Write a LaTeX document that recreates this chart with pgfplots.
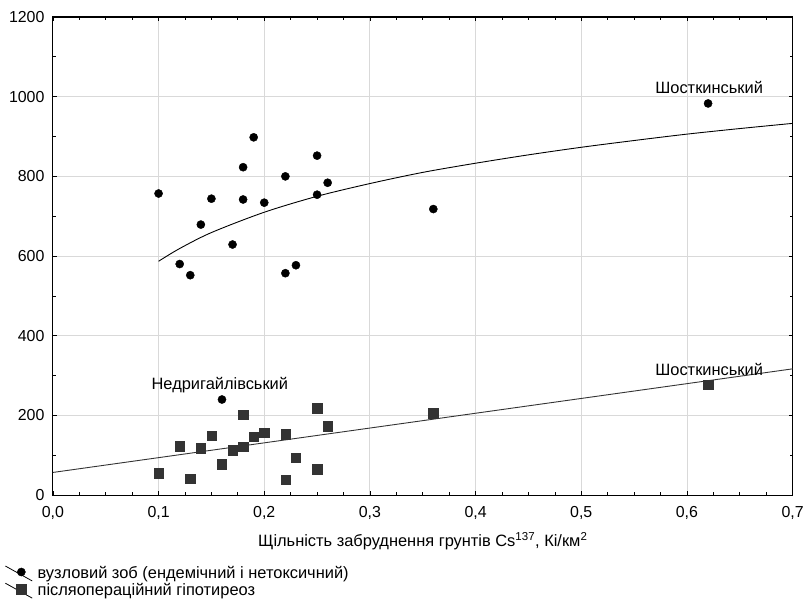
\documentclass[border=0pt]{standalone}
\usepackage{pgfplots}
\pgfplotsset{compat=1.18}
\usepackage{fontspec}
\setmainfont{Liberation Sans}

\definecolor{gridgray}{HTML}{D9D9D9}
\definecolor{sqgray}{HTML}{333333}

\pgfplotsset{
    diaglegend/.style={
        legend image code/.code={
            \draw[black, line width=0.8pt] (0pt,7pt) -- (27pt,-8pt);
            \draw[##1] plot coordinates {(16pt,1pt)};
        }
    }
}

\begin{document}
\begin{tikzpicture}
\begin{axis}[
    width=741bp, height=479bp,
    scale only axis,
    xmin=0, xmax=0.7,
    ymin=0, ymax=1200,
    xtick={0,0.1,...,0.7},
    ytick={0,200,...,1200},
    minor x tick num=3,
    minor y tick num=1,
    tick align=inside,
    major tick length=4pt,
    minor tick length=3pt,
    grid=major,
    major grid style={gridgray, line width=0.9pt},
    axis line style={black, line width=1.1pt},
    tick style={black, line width=0.7pt},
    /pgf/number format/assume math mode=true,
    xticklabel style={font=\fontsize{16}{18}\selectfont, yshift=-8pt,
        /pgf/number format/.cd, fixed, fixed zerofill, precision=1, use comma},
    yticklabel style={font=\fontsize{16}{18}\selectfont, xshift=-5pt,
        /pgf/number format/.cd, fixed, 1000 sep={}},
    scaled x ticks=false,
    scaled y ticks=false,
    xlabel={Щільність забруднення грунтів Cs\textsuperscript{137}, Кі/км\textsuperscript{2}},
    xlabel style={font=\fontsize{16.5}{18}\selectfont, yshift=-6pt},
    clip=false,
    legend cell align=left,
    legend style={at={(axis description cs:-0.065,-0.146)}, anchor=north west,
        draw=none, fill=none, font=\fontsize{16.5}{18}\selectfont,
        row sep=1pt, inner sep=0pt,
        nodes={inner sep=1pt},
        /tikz/every odd column/.append style={column sep=4pt}},
]

% upper fit curve (nodular goitre)
\addplot[black, line width=0.9pt, smooth, forget plot] coordinates {
    (0.10,587)(0.12,619)(0.15,659)(0.20,710)(0.25,750)(0.30,782)(0.35,810)
    (0.40,833)(0.45,854)(0.50,873)(0.55,890)(0.60,906)(0.65,920)(0.70,933)
};
% lower fit line (post-op hypothyroidism)
\addplot[sqgray, line width=0.9pt, forget plot] coordinates {
    (0,57)(0.7,317)
};

\addplot[only marks, mark=*, mark size=4.1pt, black, diaglegend] coordinates {
    (0.10,757)(0.12,580)(0.13,552)(0.14,679)(0.15,744)(0.17,629)
    (0.18,823)(0.18,742)(0.19,898)(0.20,734)(0.22,800)(0.22,557)
    (0.23,577)(0.25,852)(0.25,754)(0.26,784)(0.36,718)(0.62,983)
    (0.16,240)
};
\addlegendentry{вузловий зоб (ендемічний і нетоксичний)}

\addplot[only marks, mark=square*, mark size=4.7pt, sqgray, diaglegend] coordinates {
    (0.10,55)(0.12,123)(0.13,42)(0.14,118)(0.15,150)(0.16,78)
    (0.17,113)(0.18,202)(0.18,122)(0.19,147)(0.20,157)(0.22,153)
    (0.22,39)(0.23,94)(0.25,218)(0.25,65)(0.26,173)(0.36,206)(0.62,278)
};
\addlegendentry{післяопераційний гіпотиреоз}

\node[font=\fontsize{16.5}{18}\selectfont] at (axis cs:0.621,1022) {Шосткинський};
\node[font=\fontsize{16.5}{18}\selectfont] at (axis cs:0.621,315) {Шосткинський};
\node[font=\fontsize{16.5}{18}\selectfont] at (axis cs:0.158,277) {Недригайлівський};

\path (axis description cs:-0.0715,-0.217) rectangle (axis description cs:1.0175,1.0355);
\end{axis}
\end{tikzpicture}
\end{document}
